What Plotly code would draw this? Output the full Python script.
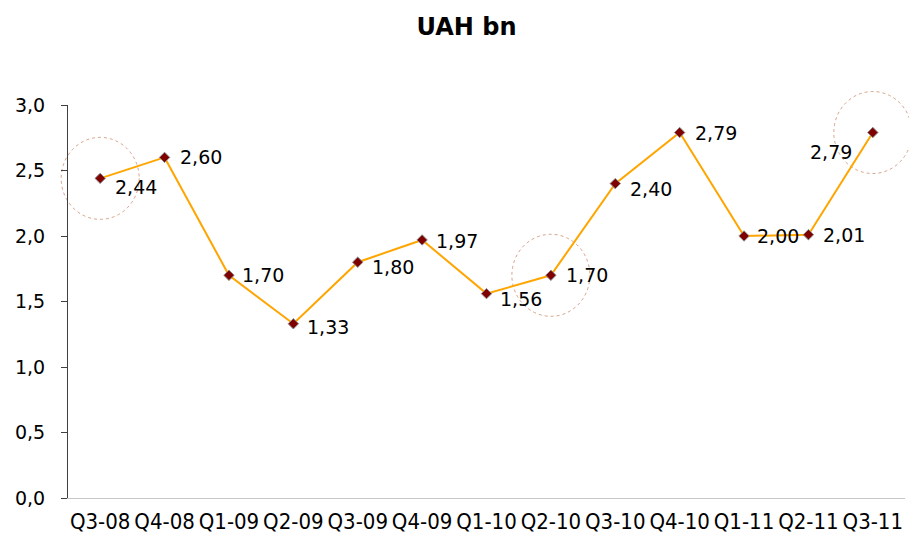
import plotly.graph_objects as go

categories = ["Q3-08", "Q4-08", "Q1-09", "Q2-09", "Q3-09", "Q4-09", "Q1-10",
              "Q2-10", "Q3-10", "Q4-10", "Q1-11", "Q2-11", "Q3-11"]
values = [2.44, 2.60, 1.70, 1.33, 1.80, 1.97, 1.56, 1.70, 2.40, 2.79, 2.00, 2.01, 2.79]
label_texts = ["2,44", "2,60", "1,70", "1,33", "1,80", "1,97", "1,56",
               "1,70", "2,40", "2,79", "2,00", "2,01", "2,79"]
# label placement: side of the point and pixel nudges
label_side = ["right"] * 12 + ["left"]
label_dx = [13, 13, 11, 12, 12, 12, 11, 13, 13, 13, 11, 13, -19]
label_dy = [-9, 0, 0, -3, -5, -1, -5, 0, -5, 0, 0, 0, -19]
highlighted = ["Q3-08", "Q2-10", "Q3-11"]
y_ticks = [0.0, 0.5, 1.0, 1.5, 2.0, 2.5, 3.0]
y_tick_labels = ["0,0", "0,5", "1,0", "1,5", "2,0", "2,5", "3,0"]
Y_MAX = 3.0

fig = go.Figure()
fig.add_trace(go.Scatter(
    x=categories, y=values, mode="lines+markers",
    line=dict(color="#FFA500", width=2),
    marker=dict(symbol="diamond", size=8, color="#800000",
                line=dict(color="#8a8a8a", width=1)),
    cliponaxis=False, showlegend=False, hoverinfo="x+y",
))

annotations = []
for cat, v, t, side, dx, dy in zip(categories, values, label_texts, label_side, label_dx, label_dy):
    annotations.append(dict(
        x=cat, y=v, xref="x", yref="y", text=t, showarrow=False,
        xanchor="left" if side == "right" else "right", yanchor="middle",
        xshift=dx, yshift=dy,
        font=dict(family="DejaVu Sans", size=19, color="#000000"),
    ))

shapes = []
n = len(categories)
for cat in highlighted:
    i = categories.index(cat)
    shapes.append(dict(
        type="circle", xref="paper", yref="paper",
        xsizemode="pixel", ysizemode="pixel",
        xanchor=(i + 0.5) / n, yanchor=values[i] / Y_MAX,
        x0=-39, x1=39, y0=-41, y1=41,
        line=dict(color="rgba(205,140,110,0.8)", width=1, dash="dot"),
        layer="below",
    ))

fig.update_layout(
    width=917, height=539,
    margin=dict(l=60, r=20, t=97, b=49),
    paper_bgcolor="white", plot_bgcolor="white",
    title=dict(text="<b>UAH bn</b>", x=0.5, xanchor="center", y=0.965, yanchor="middle",
               font=dict(family="DejaVu Sans", size=24, color="#000000")),
    shapes=shapes,
    annotations=annotations,
    xaxis=dict(
        type="category", range=[-0.5, n - 0.5], automargin=False, tickangle=0,
        showgrid=False, showline=True, linecolor="#c8c8c8", linewidth=1,
        ticks="", ticklabelstandoff=4,
        tickfont=dict(family="DejaVu Sans Condensed", size=22, color="#000000"),
        zeroline=False,
    ),
    yaxis=dict(
        range=[0, Y_MAX], tickvals=y_ticks, ticktext=y_tick_labels, automargin=False,
        showgrid=False, showline=True, linecolor="#404040", linewidth=1,
        ticks="outside", ticklen=6, tickcolor="#404040", ticklabelstandoff=12,
        tickfont=dict(family="DejaVu Sans", size=19, color="#000000"),
        zeroline=False,
    ),
)

fig.write_html("out.html")
